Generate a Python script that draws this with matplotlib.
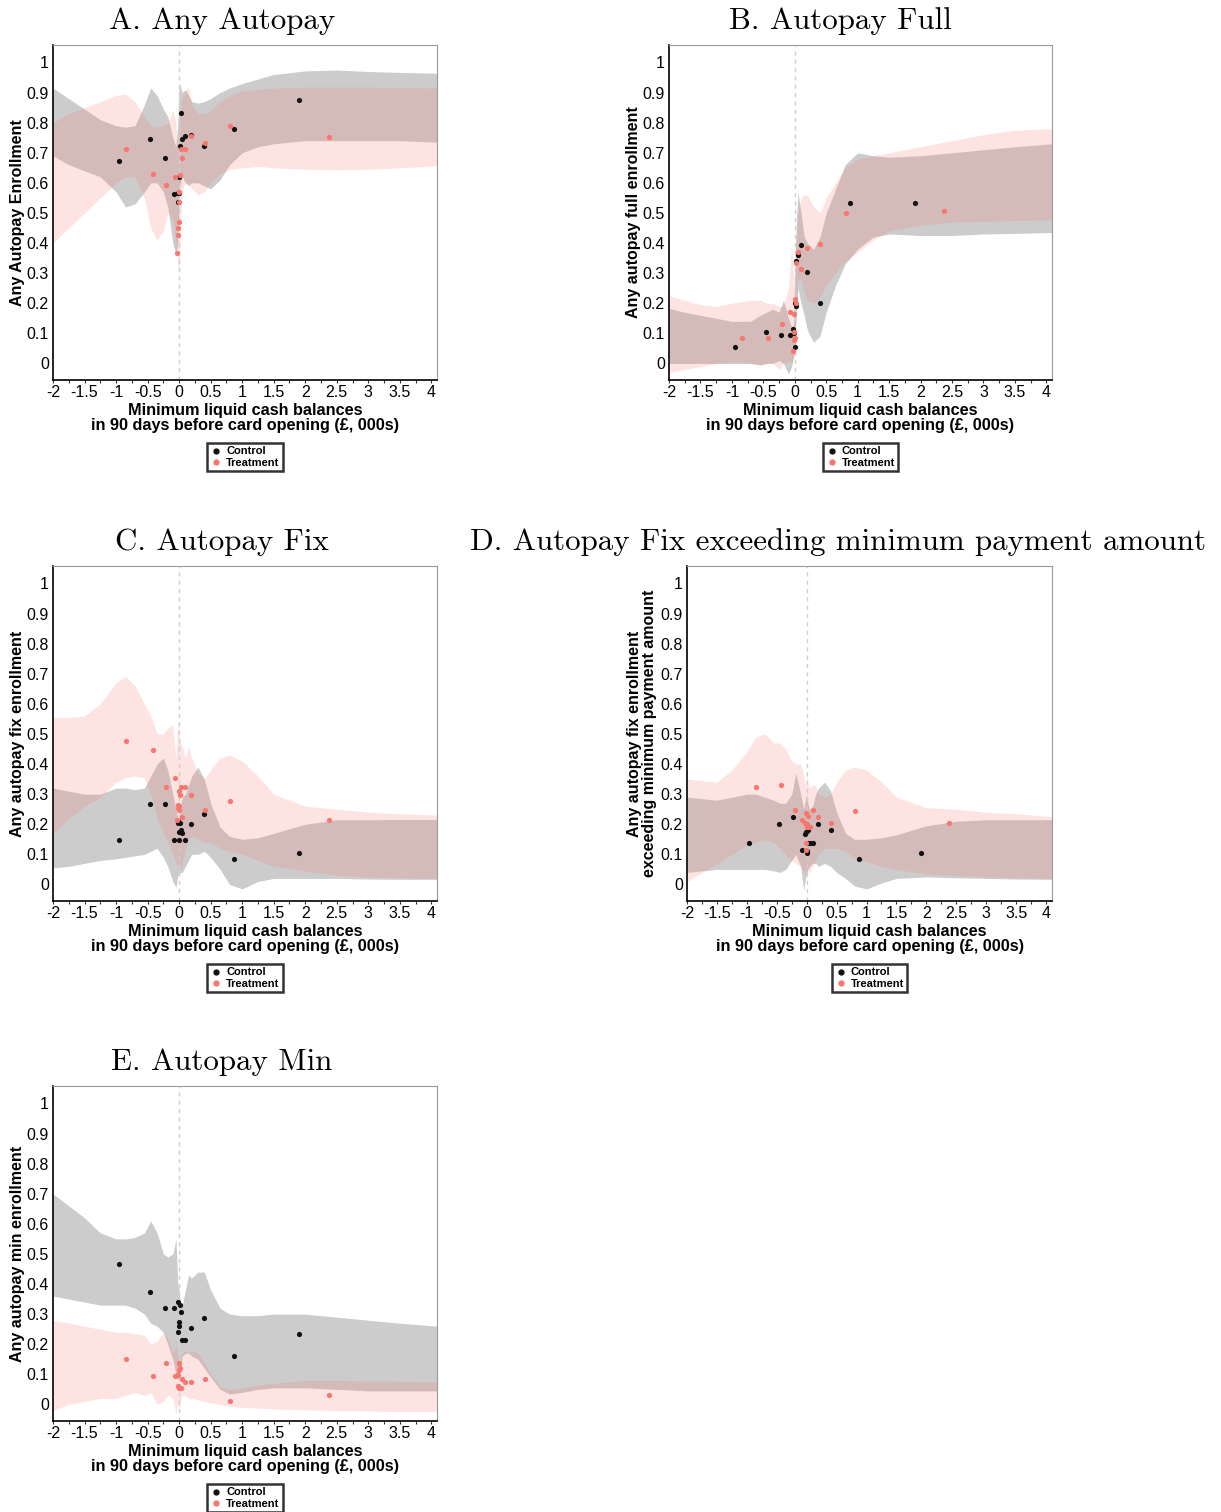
import matplotlib
matplotlib.use("Agg")
import matplotlib.pyplot as plt
from matplotlib.lines import Line2D

# x grid shared by all confidence bands
band_x = [-2, -1.75, -1.5, -1.25, -1, -0.85, -0.7, -0.55, -0.45, -0.35,
          -0.25, -0.18, -0.1, -0.05, -0.02, 0, 0.02, 0.05, 0.1, 0.15,
          0.2, 0.3, 0.4, 0.5, 0.65, 0.8, 1.0, 1.25, 1.5, 2.0,
          2.5, 3.0, 3.5, 4.1]

# bin means (x) for the scatter points
ctrl_x = [-0.956, -0.463, -0.225, -0.082, -0.023, -0.013, -0.002, 0.003,
          0.014, 0.024, 0.051, 0.099, 0.194, 0.401, 0.875, 1.906]
treat_x = [-0.839, -0.421, -0.2, -0.071, -0.029, -0.018, -0.013, -0.007,
           -0.002, 0.003, 0.014, 0.024, 0.051, 0.099, 0.194, 0.403, 0.814, 2.372]

# A. Any Autopay
a_ctrl_y = [0.671, 0.745, 0.681, 0.564, 0.538, 0.565, 0.619, 0.565,
            0.724, 0.831, 0.745, 0.757, 0.759, 0.724, 0.778, 0.874]
a_treat_y = [0.711, 0.629, 0.592, 0.618, 0.366, 0.427, 0.451, 0.469, 0.538,
             0.571, 0.626, 0.711, 0.682, 0.711, 0.757, 0.732, 0.788, 0.754]
a_ctrl_hi = [0.915, 0.88, 0.845, 0.81, 0.79, 0.785, 0.79, 0.86, 0.915, 0.89,
             0.845, 0.82, 0.75, 0.72, 0.80, 0.93, 0.92, 0.90, 0.91, 0.89,
             0.87, 0.865, 0.87, 0.88, 0.90, 0.915, 0.93, 0.945, 0.96, 0.972,
             0.975, 0.97, 0.967, 0.964]
a_ctrl_lo = [0.69, 0.66, 0.64, 0.62, 0.57, 0.52, 0.53, 0.57, 0.60, 0.60,
             0.57, 0.52, 0.40, 0.36, 0.40, 0.55, 0.60, 0.62, 0.60, 0.59,
             0.60, 0.60, 0.59, 0.58, 0.61, 0.66, 0.70, 0.72, 0.73, 0.74,
             0.74, 0.74, 0.74, 0.735]
a_treat_hi = [0.80, 0.83, 0.85, 0.87, 0.89, 0.895, 0.87, 0.82, 0.79, 0.785,
              0.79, 0.80, 0.84, 0.80, 0.70, 0.78, 0.85, 0.88, 0.90, 0.92,
              0.86, 0.83, 0.83, 0.84, 0.87, 0.89, 0.905, 0.91, 0.915, 0.918,
              0.918, 0.918, 0.917, 0.915]
a_treat_lo = [0.40, 0.45, 0.50, 0.55, 0.60, 0.62, 0.62, 0.55, 0.45, 0.41,
              0.44, 0.50, 0.48, 0.40, 0.32, 0.30, 0.45, 0.58, 0.60, 0.60,
              0.58, 0.56, 0.57, 0.60, 0.63, 0.645, 0.65, 0.655, 0.65, 0.645,
              0.643, 0.645, 0.65, 0.657]

# B. Autopay Full
b_ctrl_y = [0.053, 0.105, 0.095, 0.095, 0.116, 0.100, 0.053, 0.200,
            0.191, 0.341, 0.361, 0.394, 0.305, 0.202, 0.532, 0.532]
b_treat_y = [0.085, 0.085, 0.130, 0.171, 0.042, 0.163, 0.078, 0.105, 0.214,
             0.085, 0.200, 0.333, 0.370, 0.313, 0.382, 0.397, 0.501, 0.506]
b_ctrl_hi = [0.183, 0.17, 0.16, 0.15, 0.14, 0.14, 0.14, 0.16, 0.17, 0.18,
             0.17, 0.21, 0.15, 0.12, 0.13, 0.30, 0.45, 0.57, 0.50, 0.42,
             0.40, 0.38, 0.42, 0.50, 0.58, 0.66, 0.70, 0.69, 0.685, 0.69,
             0.70, 0.71, 0.72, 0.73]
b_ctrl_lo = [0.0, 0.0, 0.0, 0.0, 0.0, 0.0, 0.0, -0.005, 0.0, 0.0,
             0.01, 0.0, -0.035, -0.01, 0.02, 0.04, 0.15, 0.25, 0.20, 0.16,
             0.11, 0.07, 0.09, 0.17, 0.26, 0.33, 0.38, 0.42, 0.43, 0.425,
             0.425, 0.43, 0.432, 0.435]
b_treat_hi = [0.225, 0.21, 0.195, 0.19, 0.20, 0.205, 0.21, 0.21, 0.20, 0.20,
              0.19, 0.19, 0.25, 0.40, 0.30, 0.22, 0.40, 0.50, 0.55, 0.56,
              0.56, 0.52, 0.50, 0.55, 0.60, 0.65, 0.68, 0.69, 0.70, 0.72,
              0.74, 0.76, 0.775, 0.78]
b_treat_lo = [-0.03, -0.02, -0.01, 0.0, 0.005, 0.005, 0.0, -0.005, 0.0, 0.0,
              -0.02, 0.0, 0.01, 0.0, 0.02, 0.03, 0.18, 0.28, 0.28, 0.24,
              0.21, 0.20, 0.22, 0.26, 0.30, 0.34, 0.37, 0.41, 0.44, 0.46,
              0.47, 0.472, 0.475, 0.477]

# C. Autopay Fix
c_ctrl_y = [0.147, 0.266, 0.266, 0.147, 0.210, 0.205, 0.147, 0.175,
            0.203, 0.181, 0.170, 0.147, 0.200, 0.234, 0.084, 0.105]
c_treat_y = [0.475, 0.447, 0.323, 0.353, 0.214, 0.255, 0.264, 0.247, 0.312,
             0.260, 0.297, 0.323, 0.223, 0.323, 0.297, 0.247, 0.277, 0.215]
c_ctrl_hi = [0.32, 0.31, 0.30, 0.30, 0.32, 0.32, 0.315, 0.32, 0.36, 0.40,
             0.42, 0.38, 0.30, 0.25, 0.22, 0.20, 0.26, 0.29, 0.30, 0.33,
             0.36, 0.39, 0.35, 0.27, 0.19, 0.16, 0.15, 0.155, 0.17, 0.20,
             0.215, 0.215, 0.216, 0.216]
c_ctrl_lo = [0.055, 0.06, 0.07, 0.08, 0.085, 0.09, 0.095, 0.10, 0.11, 0.12,
             0.09, 0.06, 0.01, -0.01, 0.03, 0.03, 0.04, 0.04, 0.06, 0.08,
             0.10, 0.10, 0.11, 0.09, 0.05, 0.0, -0.015, 0.01, 0.02, 0.02,
             0.02, 0.018, 0.017, 0.017]
c_treat_hi = [0.555, 0.555, 0.56, 0.60, 0.67, 0.69, 0.66, 0.60, 0.56, 0.50,
              0.50, 0.52, 0.53, 0.42, 0.55, 0.50, 0.47, 0.46, 0.42, 0.46,
              0.42, 0.37, 0.35, 0.38, 0.42, 0.43, 0.41, 0.36, 0.30, 0.26,
              0.25, 0.24, 0.235, 0.23]
c_treat_lo = [0.17, 0.22, 0.26, 0.29, 0.34, 0.355, 0.36, 0.355, 0.30, 0.22,
              0.17, 0.14, 0.10, 0.07, 0.06, 0.06, 0.05, 0.07, 0.12, 0.15,
              0.16, 0.15, 0.14, 0.14, 0.12, 0.11, 0.10, 0.08, 0.06, 0.045,
              0.03, 0.025, 0.022, 0.02]

# D. Autopay Fix exceeding minimum payment amount
d_ctrl_y = [0.139, 0.202, 0.223, 0.116, 0.169, 0.175, 0.106, 0.111,
            0.139, 0.181, 0.139, 0.139, 0.200, 0.181, 0.084, 0.105]
d_treat_y = [0.323, 0.330, 0.247, 0.213, 0.205, 0.116, 0.139, 0.236, 0.200,
             0.190, 0.227, 0.192, 0.192, 0.247, 0.223, 0.204, 0.245, 0.204]
d_ctrl_hi = [0.29, 0.285, 0.28, 0.29, 0.30, 0.30, 0.29, 0.28, 0.27, 0.27,
             0.30, 0.37, 0.30, 0.25, 0.28, 0.30, 0.27, 0.25, 0.26, 0.30,
             0.32, 0.34, 0.31, 0.24, 0.17, 0.15, 0.15, 0.155, 0.165, 0.195,
             0.21, 0.215, 0.215, 0.215]
d_ctrl_lo = [0.04, 0.045, 0.05, 0.05, 0.05, 0.05, 0.05, 0.045, 0.04, 0.05,
             0.08, 0.10, 0.06, -0.02, 0.02, 0.03, 0.05, 0.06, 0.07, 0.07,
             0.06, 0.07, 0.06, 0.04, 0.02, -0.005, -0.015, 0.005, 0.02, 0.025,
             0.022, 0.02, 0.018, 0.017]
d_treat_hi = [0.35, 0.345, 0.34, 0.38, 0.44, 0.49, 0.50, 0.47, 0.47, 0.45,
              0.41, 0.40, 0.40, 0.36, 0.33, 0.36, 0.34, 0.32, 0.33, 0.33,
              0.30, 0.29, 0.30, 0.34, 0.38, 0.39, 0.38, 0.34, 0.29, 0.255,
              0.25, 0.24, 0.235, 0.225]
d_treat_lo = [0.01, 0.04, 0.07, 0.10, 0.13, 0.14, 0.15, 0.14, 0.12, 0.10,
              0.08, 0.07, 0.06, 0.04, 0.05, 0.04, 0.05, 0.04, 0.06, 0.08,
              0.10, 0.12, 0.12, 0.12, 0.11, 0.085, 0.075, 0.06, 0.05, 0.035,
              0.03, 0.025, 0.022, 0.02]

# E. Autopay Min
e_ctrl_y = [0.468, 0.373, 0.319, 0.319, 0.242, 0.339, 0.273, 0.261,
            0.330, 0.308, 0.213, 0.213, 0.253, 0.287, 0.160, 0.234]
e_treat_y = [0.150, 0.095, 0.139, 0.095, 0.098, 0.062, 0.098, 0.114, 0.139,
             0.053, 0.120, 0.053, 0.084, 0.075, 0.074, 0.086, 0.011, 0.032]
e_ctrl_hi = [0.70, 0.66, 0.62, 0.57, 0.55, 0.55, 0.555, 0.57, 0.61, 0.57,
             0.50, 0.49, 0.50, 0.55, 0.40, 0.38, 0.33, 0.33, 0.38, 0.43,
             0.42, 0.44, 0.44, 0.38, 0.32, 0.30, 0.295, 0.295, 0.30, 0.30,
             0.29, 0.28, 0.27, 0.26]
e_ctrl_lo = [0.36, 0.35, 0.34, 0.33, 0.33, 0.33, 0.32, 0.30, 0.27, 0.26,
             0.24, 0.20, 0.15, 0.10, 0.08, 0.09, 0.12, 0.16, 0.17, 0.17,
             0.16, 0.15, 0.12, 0.09, 0.05, 0.035, 0.04, 0.05, 0.055, 0.055,
             0.05, 0.045, 0.045, 0.045]
e_treat_hi = [0.28, 0.27, 0.26, 0.25, 0.24, 0.24, 0.235, 0.23, 0.20, 0.21,
              0.24, 0.22, 0.17, 0.20, 0.16, 0.14, 0.15, 0.17, 0.18, 0.17,
              0.18, 0.17, 0.14, 0.10, 0.06, 0.05, 0.055, 0.065, 0.07, 0.08,
              0.08, 0.078, 0.077, 0.075]
e_treat_lo = [-0.02, 0.0, 0.01, 0.02, 0.02, 0.03, 0.04, 0.03, 0.04, 0.0,
              0.01, 0.03, 0.02, -0.03, 0.0, -0.02, 0.01, 0.03, 0.03, 0.02,
              0.02, 0.015, 0.01, 0.005, 0.0, -0.005, -0.01, -0.012, -0.015, -0.018,
              -0.02, -0.022, -0.023, -0.024]

titles = ["A. Any Autopay", "B. Autopay Full", "C. Autopay Fix",
          "D. Autopay Fix exceeding minimum payment amount", "E. Autopay Min"]
ylabels = ["Any Autopay Enrollment", "Any autopay full enrollment",
           "Any autopay fix enrollment",
           "Any autopay fix enrollment\nexceeding minimum payment amount",
           "Any autopay min enrollment"]
xlabel = "Minimum liquid cash balances\nin 90 days before card opening (\u00a3, 000s)"
xtick_vals = [-2, -1.5, -1, -0.5, 0, 0.5, 1, 1.5, 2, 2.5, 3, 3.5, 4]
xtick_labels = ["-2", "-1.5", "-1", "-0.5", "0", "0.5", "1", "1.5", "2",
                "2.5", "3", "3.5", "4"]
ytick_vals = [0, 0.1, 0.2, 0.3, 0.4, 0.5, 0.6, 0.7, 0.8, 0.9, 1]
ytick_labels = ["0", "0.1", "0.2", "0.3", "0.4", "0.5", "0.6", "0.7", "0.8",
                "0.9", "1"]

CTRL_COL = "#111111"
TREAT_COL = "#F8766D"
SANS = "Liberation Sans"

W, H = 1221, 1512
fig = plt.figure(figsize=(W / 100, H / 100), dpi=100)

# axes boxes in pixels: left, top, right, bottom
boxes = [(53, 45, 437, 380), (669, 45, 1052, 380),
         (53, 566, 437, 901), (687, 566, 1052, 901),
         (53, 1086, 437, 1421)]
title_pos = [(222, 21), (840, 21), (222, 542), (838, 542), (222, 1062)]
xmax = [4.09, 4.09, 4.09, 4.1, 4.09]

panels = [
    (a_ctrl_y, a_treat_y, a_ctrl_lo, a_ctrl_hi, a_treat_lo, a_treat_hi),
    (b_ctrl_y, b_treat_y, b_ctrl_lo, b_ctrl_hi, b_treat_lo, b_treat_hi),
    (c_ctrl_y, c_treat_y, c_ctrl_lo, c_ctrl_hi, c_treat_lo, c_treat_hi),
    (d_ctrl_y, d_treat_y, d_ctrl_lo, d_ctrl_hi, d_treat_lo, d_treat_hi),
    (e_ctrl_y, e_treat_y, e_ctrl_lo, e_ctrl_hi, e_treat_lo, e_treat_hi),
]

for i, (cy, ty, clo, chi, tlo, thi) in enumerate(panels):
    l, t, r, b = boxes[i]
    ax = fig.add_axes([l / W, 1 - b / H, (r - l) / W, (b - t) / H])

    # confidence bands: control grey, treatment pink on top
    ax.fill_between(band_x, clo, chi, color="black", alpha=0.2, lw=0)
    ax.fill_between(band_x, tlo, thi, color=TREAT_COL, alpha=0.2, lw=0)
    ax.axvline(0, color="#cfcfcf", lw=1, ls=(0, (3, 3)))

    ax.scatter(ctrl_x, cy, s=14, color=CTRL_COL, lw=0, zorder=3)
    ax.scatter(treat_x, ty, s=14, color=TREAT_COL, lw=0, zorder=3)

    ax.set_xlim(-2, xmax[i])
    ax.set_ylim(-0.055, 1.058)
    ax.set_xticks(xtick_vals)
    ax.set_xticklabels(xtick_labels, fontsize=11.5, family=SANS)
    ax.set_xticks([v / 4 for v in range(-8, 17)], minor=True)
    ax.set_yticks(ytick_vals)
    ax.set_yticklabels(ytick_labels, fontsize=11.5, family=SANS)
    ax.tick_params(axis="x", which="both", length=2.5, width=0.8, pad=1,
                   color="#333333")
    ax.tick_params(axis="y", length=0, pad=3)

    for side in ["top", "right"]:
        ax.spines[side].set_color("#9a9a9a")
        ax.spines[side].set_linewidth(0.8)
    for side in ["left", "bottom"]:
        ax.spines[side].set_color("black")
        ax.spines[side].set_linewidth(1.2)

    ax.set_xlabel(xlabel, fontsize=11.7, fontweight="bold", family=SANS,
                  linespacing=1.05, labelpad=2)
    ax.set_ylabel(ylabels[i], fontsize=11.5, fontweight="bold", family=SANS,
                  linespacing=1.0)
    if i == 3:
        ax.yaxis.set_label_coords(-30 / (r - l), 0.5)
    else:
        ax.yaxis.set_label_coords(-28 / (r - l), 0.5)

    handles = [Line2D([], [], ls="none", marker="o", ms=3.5, color=CTRL_COL),
               Line2D([], [], ls="none", marker="o", ms=3.5, color=TREAT_COL)]
    leg = ax.legend(handles, ["Control", "Treatment"], loc="center",
                    bbox_to_anchor=(0.5, -77 / (b - t)),
                    bbox_transform=ax.transAxes,
                    prop={"family": SANS, "weight": "bold", "size": 8},
                    frameon=True, fancybox=False, handlelength=1.0,
                    handletextpad=0.4, borderpad=0.3, labelspacing=0.1,
                    borderaxespad=0)
    leg.get_frame().set_edgecolor("black")
    leg.get_frame().set_linewidth(1.8)

    tx, ty_ = title_pos[i]
    fig.text(tx / W, 1 - ty_ / H, titles[i], family="cmr10", fontsize=22.3,
             ha="center", va="center")

fig.savefig("out.png", dpi=100)
